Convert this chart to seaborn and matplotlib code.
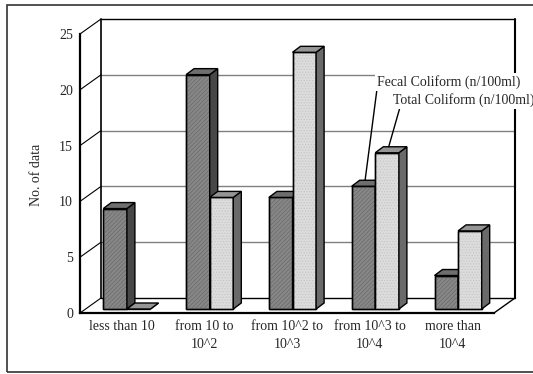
import matplotlib
matplotlib.use("Agg")
import matplotlib.pyplot as plt
from matplotlib.patches import Polygon, Rectangle
import seaborn as sns
import pandas as pd

categories = ["less than 10", "from 10 to\n10^2", "from 10^2 to\n10^3",
              "from 10^3 to\n10^4", "more than\n10^4"]
series = ["Fecal Coliform (n/100ml)", "Total Coliform (n/100ml)"]
fecal = [9, 21, 10, 11, 3]
total = [0, 10, 23, 14, 7]
yticks = [0, 5, 10, 15, 20, 25]
ylabel = "No. of data"

df = pd.DataFrame({
    "category": categories * 2,
    "series": [series[0]] * len(categories) + [series[1]] * len(categories),
    "value": fecal + total,
})

sns.set_style("white")
plt.rcParams["font.family"] = ["Liberation Serif", "DejaVu Serif"]
plt.rcParams["font.size"] = 10
plt.rcParams["hatch.linewidth"] = 0.5

W, H = 533, 374
fig = plt.figure(figsize=(W / 100, H / 100), dpi=100)
L, R, B, T = 80, 494, 313, 34
ax = fig.add_axes([L / W, (H - B) / H, (R - L) / W, (B - T) / H])
ax.patch.set_alpha(0)

front = {"Fecal Coliform (n/100ml)": "#878787", "Total Coliform (n/100ml)": "#dcdcdc"}
sides = {"Fecal Coliform (n/100ml)": "#474747", "Total Coliform (n/100ml)": "#6a6a6a"}
tops = {"Fecal Coliform (n/100ml)": "#6e6e6e", "Total Coliform (n/100ml)": "#959595"}
hatches = {"Fecal Coliform (n/100ml)": ("////////", "#6a6a6a"),
           "Total Coliform (n/100ml)": ("......", "#c4c4c4")}

sns.barplot(data=df, x="category", y="value", hue="series", palette=front,
            hue_order=series, order=categories, width=0.57, gap=0,
            saturation=1, edgecolor="black", linewidth=1, legend=False, ax=ax)
bars = list(ax.patches)

ax.set_xlim(-0.5, 4.5)
ax.set_ylim(0, 25)
pxx = (R - L) / 5.0
pxy = (B - T) / 25.0
dX, dY = 21 / pxx, 15 / pxy          # wall depth
fx, fy = 5.5 / pxx, 4 / pxy          # bar front offset
bx, by = 8 / pxx, 6 / pxy            # bar depth

# walls and floor
kw = dict(clip_on=False, zorder=1)
for v in yticks[1:-1]:
    ax.plot([-0.5 + dX, 4.5 + dX], [v + dY, v + dY], color="#808080", lw=1, **kw)
for v in yticks:
    ax.plot([-0.5, -0.5 + dX], [v, v + dY], color="black", lw=0.8, **kw)
ax.plot([-0.5 + dX, 4.5 + dX], [25 + dY, 25 + dY], color="black", lw=1, **kw)
ax.plot([-0.5 + dX, -0.5 + dX], [dY, 25 + dY], color="black", lw=1.2, **kw)
ax.plot([4.5 + dX, 4.5 + dX], [dY, 25 + dY], color="black", lw=1.5, **kw)
ax.plot([-0.5 + dX, 4.5 + dX], [dY, dY], color="black", lw=1, **kw)
ax.plot([4.5, 4.5 + dX], [0, dY], color="black", lw=1, **kw)

ann_pts = {}
for p in bars:
    x0 = p.get_x()
    w = p.get_width()
    h = p.get_height()
    cidx = int(round(x0 + w / 2))
    s = series[0] if (x0 + w / 2) < cidx else series[1]
    z = 3 if s == series[0] else 4
    x0n = x0 + fx
    p.set_x(x0n)
    p.set_y(fy)
    p.set_zorder(z)
    p.set_clip_on(False)
    hp, hc = hatches[s]
    if h > 0:
        ov = Rectangle((x0n, fy), w, h, fill=False, hatch=hp, edgecolor=hc,
                       lw=0, zorder=z + 0.01, clip_on=False)
        ax.add_patch(ov)
        outline = Rectangle((x0n, fy), w, h, fill=False, edgecolor="black",
                            lw=1, zorder=z + 0.02, clip_on=False)
        ax.add_patch(outline)
    side = Polygon([(x0n + w, fy), (x0n + w + bx, fy + by),
                    (x0n + w + bx, fy + h + by), (x0n + w, fy + h)],
                   closed=True, fc=sides[s], ec="black", lw=1, zorder=z + 0.03,
                   clip_on=False)
    top = Polygon([(x0n, fy + h), (x0n + bx, fy + h + by),
                   (x0n + w + bx, fy + h + by), (x0n + w, fy + h)],
                  closed=True, fc=tops[s], ec="black", lw=1, zorder=z + 0.04,
                  clip_on=False)
    ax.add_patch(side)
    ax.add_patch(top)
    if cidx == 3:
        ann_pts[s] = (x0n + w / 2 + bx * 0.2, fy + h + by)

# axes styling
for sp in ["top", "right"]:
    ax.spines[sp].set_visible(False)
for sp in ["left", "bottom"]:
    ax.spines[sp].set_color("black")
    ax.spines[sp].set_linewidth(1.6)
    ax.spines[sp].set_zorder(6)
ax.set_yticks(yticks)
ax.set_yticklabels([str(v) for v in yticks])
ax.tick_params(axis="y", length=3, width=1, pad=2, labelsize=10, direction="out")
ax.set_xticks(range(len(categories)))
ax.set_xticklabels(categories, linespacing=1.55, va="top")
ax.set_xticks([0.5, 1.5, 2.5, 3.5, 4.5], minor=True)
ax.tick_params(axis="x", which="major", length=0, pad=5, labelsize=10)
ax.tick_params(axis="x", which="minor", length=4, width=1, direction="in")
ax.set_xlabel("")
ax.set_ylabel("")
ax.grid(False)

fig.text(37 / W, 1 - 175 / H, ylabel, rotation=90, ha="center", va="center",
         fontsize=10)

# data labels with leader lines
bb = dict(boxstyle="square,pad=0.15", fc="white", ec="none")
ax.annotate(series[0], xy=ann_pts[series[0]], xycoords="data",
            xytext=(377, H - 82), textcoords="figure pixels", ha="left",
            va="center", fontsize=10, bbox=bb, zorder=8, annotation_clip=False,
            arrowprops=dict(arrowstyle="-", color="black", lw=1, shrinkA=0,
                            shrinkB=0, relpos=(0.0, 0.0)))
ax.annotate(series[1], xy=ann_pts[series[1]], xycoords="data",
            xytext=(393, H - 100), textcoords="figure pixels", ha="left",
            va="center", fontsize=10, bbox=bb, zorder=8, annotation_clip=False,
            arrowprops=dict(arrowstyle="-", color="black", lw=1, shrinkA=0,
                            shrinkB=0, relpos=(0.05, 0.0)))

# outer chart frame
fig.patches.append(Rectangle((7 / W, 2 / H), 0.99, (372 - 5) / H,
                             transform=fig.transFigure, fill=False,
                             ec="#333333", lw=1.2, zorder=0))

fig.savefig("out.png", dpi=100)
